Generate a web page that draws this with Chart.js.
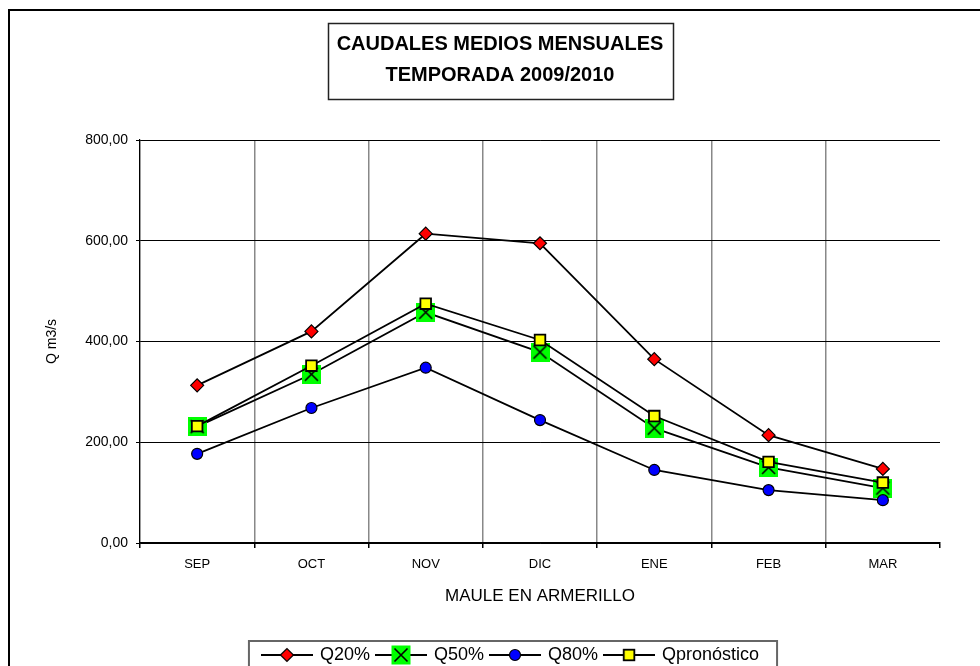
<!DOCTYPE html>
<html>
<head>
<meta charset="utf-8">
<title>Caudales medios mensuales</title>
<script src="https://cdn.jsdelivr.net/npm/chart.js@4"></script>
<style>
html,body{margin:0;padding:0;background:#fff;}
#wrap{width:980px;height:666px;}
</style>
</head>
<body>
<div id="wrap"><canvas id="c" width="980" height="666"></canvas></div>
<script>
// Caudales medios mensuales, Maule en Armerillo, temporada 2009/2010
const MESES  = ["SEP","OCT","NOV","DIC","ENE","FEB","MAR"];
const Q20    = [313, 420, 614, 595, 365, 214, 147];
const Q50    = [231, 335, 458, 379, 228, 150, 109];
const Q80    = [177, 268, 348, 244, 145, 105,  85];
const QPRON  = [232, 352, 475, 403, 252, 161, 120];
const Y_TICKS = [0, 200, 400, 600, 800];

const FONT = "'Liberation Sans', Arial, sans-serif";
Chart.defaults.font.family = FONT;
Chart.defaults.color = "#000";

function mkCanvas(w,h){ const c=document.createElement("canvas"); c.width=w; c.height=h; return c; }

// marcador de Q50: cuadro verde con una X negra
function dibujaCruz(g,x,y){
  g.fillStyle="#00ff00"; g.fillRect(x-9.5,y-9.5,19,19);
  g.strokeStyle="#000"; g.lineWidth=1.6;
  g.beginPath(); g.moveTo(x-6.5,y-6.5); g.lineTo(x+6.5,y+6.5);
  g.moveTo(x+6.5,y-6.5); g.lineTo(x-6.5,y+6.5); g.stroke();
}
const cruzVerde=(()=>{ const c=mkCanvas(19,19); dibujaCruz(c.getContext("2d"),9.5,9.5); return c; })();

// iconos de leyenda: línea + marcador
function icono(tipo){
  const c=mkCanvas(52,20), g=c.getContext("2d");
  g.strokeStyle="#000"; g.lineWidth=1.8;
  g.beginPath(); g.moveTo(0,10); g.lineTo(52,10); g.stroke();
  g.lineWidth=1.2;
  if(tipo==="rombo"){
    g.beginPath(); g.moveTo(19.5,10); g.lineTo(26,3.5); g.lineTo(32.5,10); g.lineTo(26,16.5); g.closePath();
    g.fillStyle="#ff0000"; g.fill(); g.stroke();
  }else if(tipo==="cruz"){
    dibujaCruz(g,26,10);
  }else if(tipo==="circulo"){
    g.beginPath(); g.arc(26,10,5.5,0,Math.PI*2); g.fillStyle="#0000ff"; g.fill(); g.stroke();
  }else{
    g.lineWidth=1.8; g.fillStyle="#ffff00"; g.fillRect(20.7,4.7,10.6,10.6); g.strokeRect(20.7,4.7,10.6,10.6);
  }
  return c;
}
const ICONOS=[icono("rombo"),icono("cruz"),icono("circulo"),icono("cuadro")];

const marco={
  id:"marco",
  beforeDraw(chart){
    const c=chart.ctx; c.save(); c.fillStyle="#fff"; c.fillRect(0,0,chart.width,chart.height); c.restore();
  },
  afterLayout(chart){
    const t=chart.titleBlock; if(t){ t.left=20; t.right=980; }
    const l=chart.legend; if(l){ l.left=42; l.right=980; l.top+=8; l.bottom+=8; }
  },
  afterDraw(chart){
    const c=chart.ctx; c.save();
    // borde exterior del gráfico
    c.strokeStyle="#000"; c.lineWidth=2; c.strokeRect(9,10,1000,1000);
    // caja del título
    const t=chart.titleBlock, to=t.options, f=Chart.helpers.toFont(to.font);
    c.font=f.string;
    const w=Math.max(...to.text.map(s=>c.measureText(s).width));
    const cx=(t.left+t.right)/2;
    c.lineWidth=1.5; c.strokeStyle="#222";
    c.strokeRect(Math.round(cx-w/2-9)+0.5, t.top+0.5, Math.round(w+18), Math.round(f.lineHeight*to.text.length+14));
    // caja de la leyenda
    const hb=chart.legend.legendHitBoxes;
    if(hb&&hb.length){
      const a=hb[0], b=hb[hb.length-1];
      c.strokeStyle="#666"; c.lineWidth=2;
      c.strokeRect(a.left-14, chart.legend.top+2, b.left+b.width+18-(a.left-14), 60);
    }
    c.restore();
  }
};

new Chart(document.getElementById("c"),{
  type:"line",
  data:{
    labels:MESES,
    datasets:[
      {label:"Q20%", data:Q20, borderColor:"#000", borderWidth:1.8, tension:0,
       pointStyle:"rectRot", pointRadius:6.5, pointBackgroundColor:"#ff0000", pointBorderColor:"#000", pointBorderWidth:1.2},
      {label:"Q50%", data:Q50, borderColor:"#000", borderWidth:1.8, tension:0,
       pointStyle:cruzVerde, pointRadius:9, order:1},
      {label:"Q80%", data:Q80, borderColor:"#000", borderWidth:1.8, tension:0,
       pointStyle:"circle", pointRadius:5.5, pointBackgroundColor:"#0000ff", pointBorderColor:"#000", pointBorderWidth:1.2},
      {label:"Qpronóstico", data:QPRON, borderColor:"#000", borderWidth:1.8, tension:0,
       pointStyle:"rect", pointRadius:7.5, pointBackgroundColor:"#ffff00", pointBorderColor:"#000", pointBorderWidth:1.8}
    ]
  },
  options:{
    responsive:false, animation:false, events:[],
    layout:{padding:{left:8, top:23, right:40, bottom:0}},
    plugins:{
      title:{display:true, text:["CAUDALES MEDIOS MENSUALES","TEMPORADA 2009/2010"], color:"#000",
        font:{size:20, weight:"bold", lineHeight:1.55}, padding:{top:5.5, bottom:49.5}},
      legend:{position:"bottom",
        labels:{usePointStyle:true, pointStyleWidth:48, padding:7, color:"#000", font:{size:18},
          sort:(a,b)=>a.datasetIndex-b.datasetIndex,
          generateLabels(chart){
            return chart.data.datasets.map((ds,i)=>({text:ds.label, pointStyle:ICONOS[i], datasetIndex:i,
              hidden:false, lineWidth:0, fillStyle:"transparent", strokeStyle:"transparent", fontColor:"#000"}));
          }}},
      tooltip:{enabled:false}
    },
    scales:{
      x:{offset:true,
        grid:{offset:true, color:c=>c.type==="tick"?"#888":"rgba(0,0,0,0)", lineWidth:1.5, tickColor:"#000", tickLength:5},
        border:{color:"#000", width:1.2},
        ticks:{font:{size:13}, padding:9, maxRotation:0, autoSkip:false, color:"#000"},
        title:{display:true, text:"MAULE EN ARMERILLO", font:{size:17}, color:"#000", padding:{top:0, bottom:24}},
        afterFit(s){ s.height=88; }},
      y:{min:0, max:800,
        afterBuildTicks(s){ s.ticks=Y_TICKS.map(v=>({value:v})); },
        grid:{color:"#000", lineWidth:1, tickColor:"#000", tickLength:4},
        border:{color:"#000", width:1.2},
        ticks:{font:{size:14}, padding:8, color:"#000", callback:v=>v.toFixed(2).replace(".",",")},
        title:{display:true, text:"Q m3/s", font:{size:14}, color:"#000", padding:{top:36, bottom:0}},
        afterFit(s){ s.width=132; }}
    }
  },
  plugins:[marco]
});
</script>
</body>
</html>
